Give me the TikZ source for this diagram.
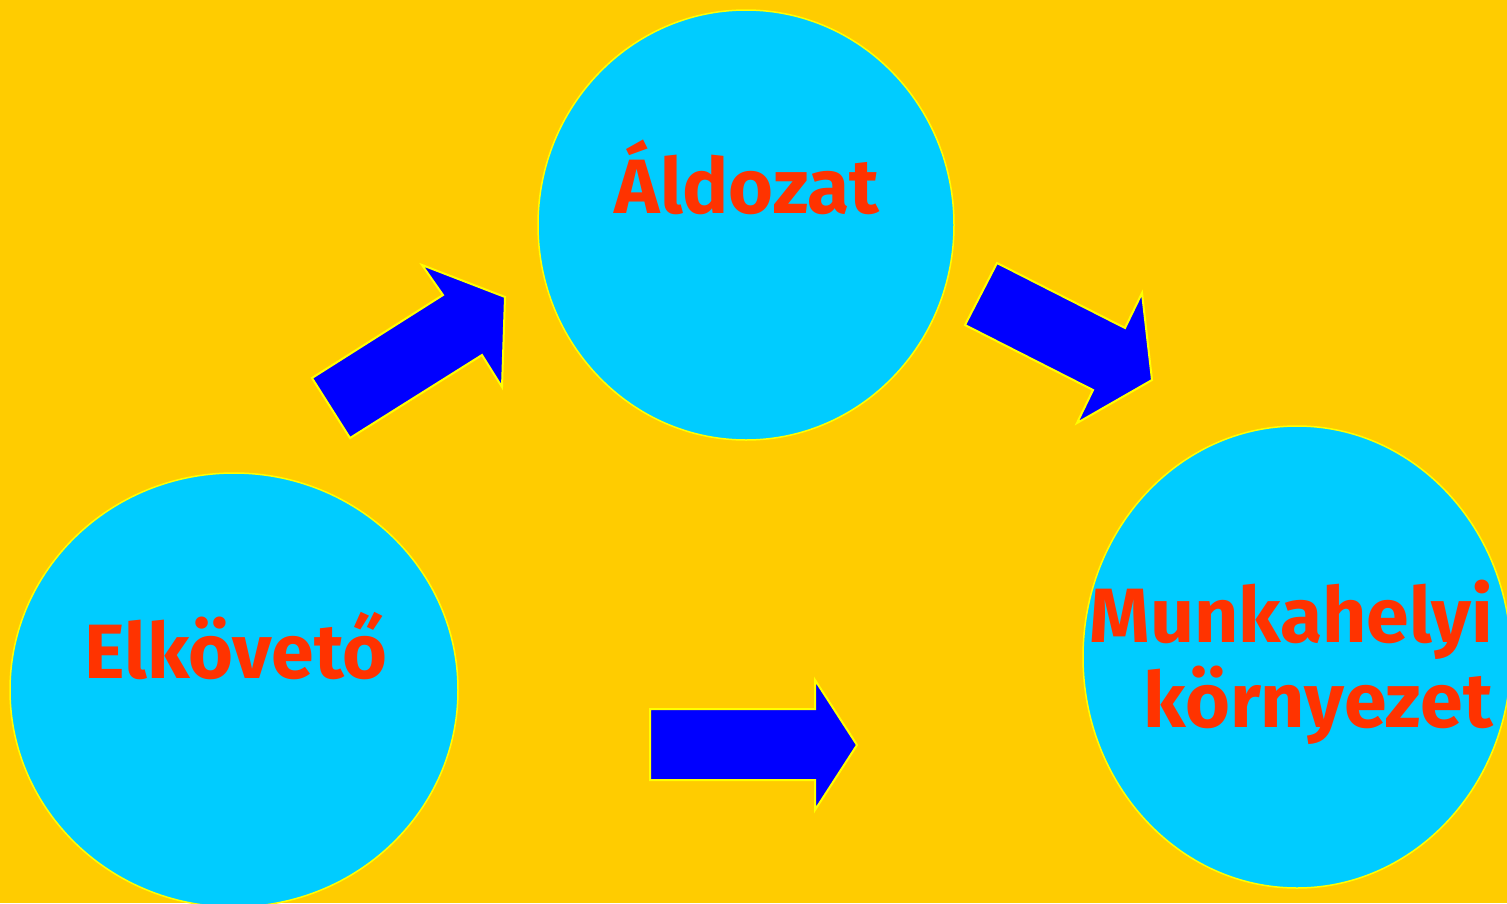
\documentclass[tikz,border=0pt]{standalone}
\usepackage{fontspec}
\setmainfont{Fira Sans}
\usepackage{tikz}
\usetikzlibrary{positioning, shapes.geometric}

\definecolor{bgyellow}{HTML}{FFCC00}
\definecolor{blobblue}{HTML}{00CCFF}
\definecolor{arrowblue}{HTML}{0000FF}
\definecolor{txtred}{HTML}{FF3300}
\definecolor{rimyellow}{HTML}{FFFF00}

\tikzset{
  blob/.style={ellipse, draw=rimyellow, line width=1.5pt, fill=blobblue, inner sep=0pt},
  lbl/.style={text=txtred, font=\fontsize{77}{85}\selectfont\bfseries, anchor=base, inner sep=0pt},
  blockarrow/.style={draw=rimyellow, line width=2pt, fill=arrowblue, line join=miter}
}

\begin{document}
\begin{tikzpicture}[x=1pt, y=-1pt]
    % Background
    \fill[bgyellow] (0,0) rectangle (1507,903);
    \useasboundingbox (0,0) rectangle (1507,903);

    % Circles
    \node[blob, minimum width=416, minimum height=430] (aldozat) at (746,225) {};
    \node[blob, minimum width=448, minimum height=434] (elkoveto) at (234,690) {};
    \node[blob, minimum width=428, minimum height=462] (munkahely) at (1297,657) {};

    % Labels
    \node[lbl] (aldozattxt) at (747,213) {Áldozat};
    \node[lbl] (elkovetotxt) at (236,678) {Elkövető};
    \node[lbl, align=right, anchor=north east] (munkahelytxt) at (1493,580) {Munkahelyi\\környezet};

    % Block arrows
    \filldraw[blockarrow] (312,378) -- (443,295) -- (422,265) -- (505,297) -- (502,387) -- (482,355) -- (350,438) -- cycle;
    \filldraw[blockarrow] (997,263) -- (1125,328) -- (1142,293) -- (1152,380) -- (1077,423) -- (1093,390) -- (965,325) -- cycle;
    \filldraw[blockarrow] (650,709) -- (815,709) -- (815,680) -- (857,745) -- (815,810) -- (815,780) -- (650,780) -- cycle;

\end{tikzpicture}
\end{document}
